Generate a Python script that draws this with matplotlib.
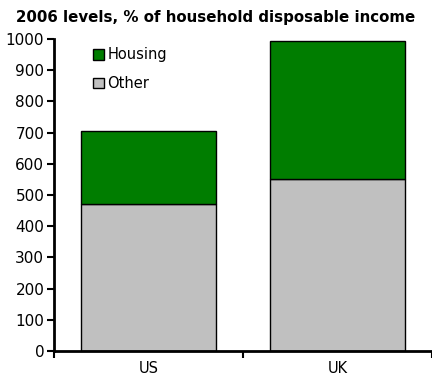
import numpy as np
import matplotlib.pyplot as plt
from matplotlib.patches import Patch

# data
countries = ['US', 'UK']
other = [470, 550]
housing = [235, 445]

plt.rcParams['font.family'] = ['Verdana', 'DejaVu Sans']

fig = plt.figure(figsize=(4.32, 3.8), dpi=100)
ax = fig.add_axes([0.125, 0.0763, 0.875, 0.8211])

x = np.arange(len(countries))
w = 0.714
ax.bar(x, other, w, color='#c0c0c0', edgecolor='black', linewidth=1)
ax.bar(x, housing, w, bottom=other, color='#007d00', edgecolor='black', linewidth=1)

ax.set_xlim(-0.5, 1.5)
ax.set_ylim(0, 1000)
ax.set_yticks(range(0, 1001, 100))
ax.set_xticks(x)
ax.set_xticklabels(countries)
ax.set_xticks([-0.5, 0.5, 1.5], minor=True)
ax.tick_params(axis='x', which='major', length=0, pad=7, labelsize=10.5)
ax.tick_params(axis='x', which='minor', length=5, width=1.5, direction='out')
ax.tick_params(axis='y', length=5, width=1.5, direction='out', labelsize=11, pad=2)

for s in ['top', 'right']:
    ax.spines[s].set_visible(False)
for s in ['left', 'bottom']:
    ax.spines[s].set_linewidth(2)

handles = [Patch(facecolor='#007d00', edgecolor='black', label='Housing'),
           Patch(facecolor='#c0c0c0', edgecolor='black', label='Other')]
fig.legend(handles=handles, loc='upper left', bbox_to_anchor=(0.205, 0.887),
           frameon=False, handlelength=0.75, handleheight=0.75,
           handletextpad=0.25, labelspacing=0.95, fontsize=10.5,
           borderaxespad=0, borderpad=0.3)

fig.text(0.5, 0.953, '2006 levels, % of household disposable income',
         ha='center', va='center', fontsize=10.8, fontweight='bold')

fig.savefig('out.png', dpi=100)
